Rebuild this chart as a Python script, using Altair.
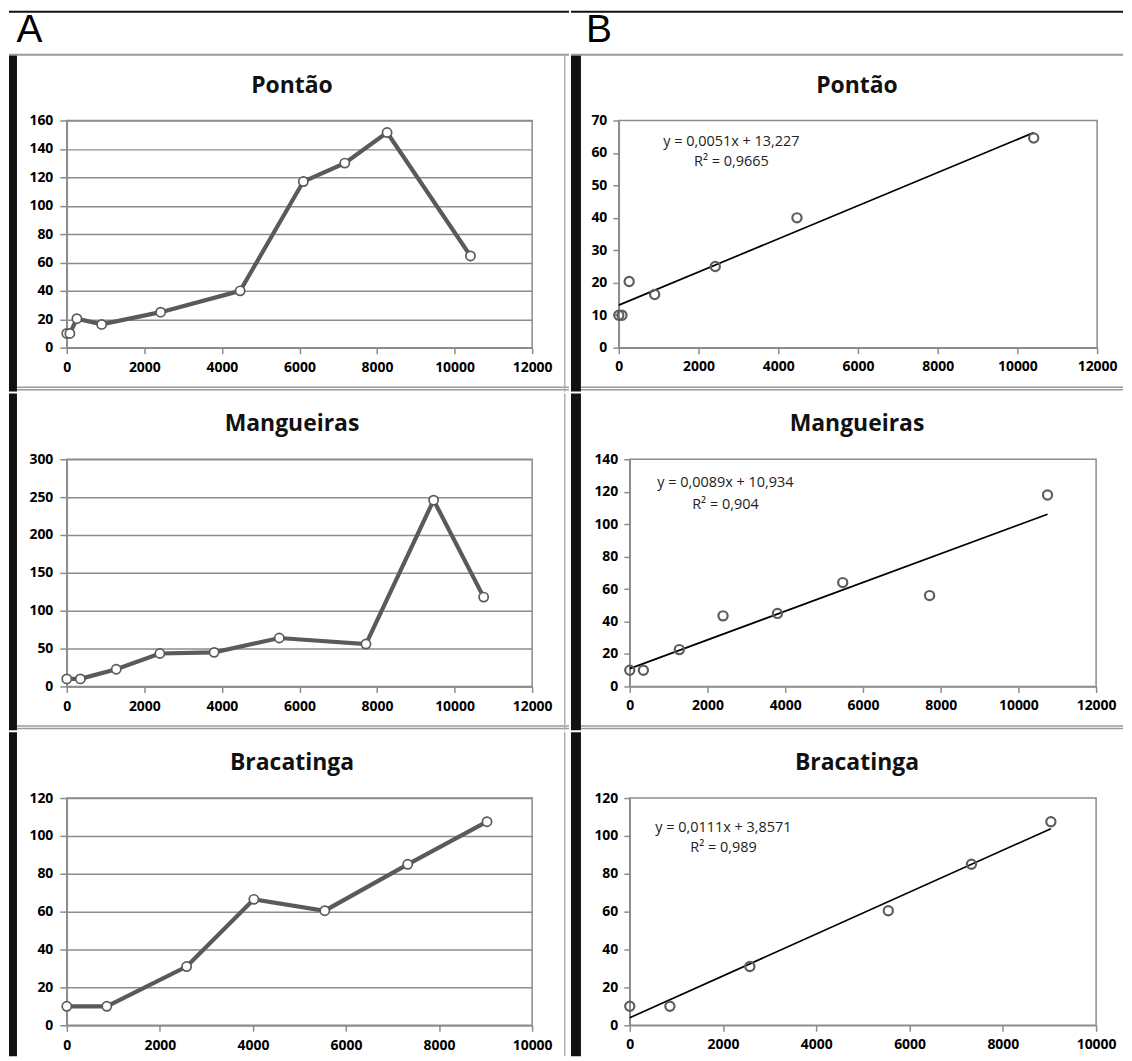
import altair as alt
import pandas as pd

# ---------------- data ----------------
pontao_x = [0, 80, 260, 900, 2420, 4470, 6100, 7170, 8260, 10410]
pontao_y = [10, 10, 20.4, 16.4, 25, 40, 117, 130, 151.5, 64.6]
pontao_fit_x = [0, 80, 260, 900, 2420, 4470, 10410]
pontao_fit_y = [10, 10, 20.4, 16.4, 25, 40, 64.6]

mang_x = [0, 350, 1275, 2400, 3800, 5480, 7715, 9460, 10750]
mang_y = [10, 10, 22.7, 43.5, 45, 64, 56, 246, 118]
mang_fit_x = [0, 350, 1275, 2400, 3800, 5480, 7715, 10750]
mang_fit_y = [10, 10, 22.7, 43.5, 45, 64, 56, 118]

brac_x = [0, 860, 2575, 4020, 5544, 7327, 9030]
brac_y = [10, 10, 31, 66.5, 60.5, 85, 107.5]
brac_fit_x = [0, 860, 2575, 5544, 7327, 9030]
brac_fit_y = [10, 10, 31, 60.5, 85, 107.5]

titles = ["Pontão", "Mangueiras", "Bracatinga"]
equations = ["y = 0,0051x + 13,227", "y = 0,0089x + 10,934", "y = 0,0111x + 3,8571"]
r_squared = ["R² = 0,9665", "R² = 0,904", "R² = 0,989"]

# ---------------- styling ----------------
GRAY = "#8c8c8c"
H = 228
one = pd.DataFrame({"k": [0]})


def rect(x1, x2, y1, y2, color, opacity=1):
    return alt.Chart(one).mark_rect(color=color, opacity=opacity).encode(
        x=alt.value(x1), x2=alt.value(x2), y=alt.value(y1), y2=alt.value(y2))


def text(t, x, y, size, weight="normal", font="Open Sans", color="#111"):
    return alt.Chart(pd.DataFrame({"t": [t]})).mark_text(
        font=font, fontSize=size, fontWeight=weight, color=color,
        align="center", baseline="middle").encode(
        text="t:N", x=alt.value(x), y=alt.value(y))


def enc(xmax, xstep, ymax, ystep, grid, ytick, ypad, xpad):
    common = dict(labelFont="Open Sans", labelFontWeight="bold", labelFontSize=14,
                  labelColor="#000", domainColor=GRAY, domainWidth=1.5,
                  tickColor=GRAY, tickWidth=1.5, labelFlush=False,
                  labelOverlap=False, title=None, format="d")
    X = alt.X("x:Q", scale=alt.Scale(domain=[0, xmax], nice=False),
              axis=alt.Axis(values=list(range(0, xmax + 1, xstep)), grid=False,
                            tickSize=6, labelPadding=xpad, **common))
    Y = alt.Y("y:Q", scale=alt.Scale(domain=[0, ymax], nice=False),
              axis=alt.Axis(values=list(range(0, ymax + 1, ystep)), grid=grid,
                            gridColor=GRAY, gridWidth=1.5, tickSize=ytick,
                            labelPadding=ypad, **common))
    return X, Y


def frame(L, R, T, B, W, bar, row, letter=None, letter_x=0):
    layers = [rect(L, R, T, B, "white", 0)]
    top = -66 if row == 0 else T
    layers.append(rect(bar[0], bar[1], top, B, "#111"))
    if row < 2:
        layers.append(rect(bar[1], R, H + 39, H + 40.5, "#9a9a9a"))
        layers.append(rect(bar[1], R, H + 41.5, H + 43, "#9a9a9a"))
    if row == 0:
        layers.append(rect(L, R, -110, -108, "#111"))
        layers.append(rect(L, R, -67, -65, "#9a9a9a"))
        layers.append(text(letter, letter_x, -91, 39, font="Liberation Sans", color="#000"))
    return layers


# layout parameters per row
rows_T = [-110, -66, -66]
rows_B = [272, 272, 259]

A_specs = [
    (pontao_x, pontao_y, 12000, 2000, 160, 20),
    (mang_x, mang_y, 12000, 2000, 300, 50),
    (brac_x, brac_y, 10000, 2000, 120, 20),
]
B_specs = [
    (pontao_fit_x, pontao_fit_y, 12000, 2000, 70, 10),
    (mang_fit_x, mang_fit_y, 12000, 2000, 140, 20),
    (brac_fit_x, brac_fit_y, 10000, 2000, 120, 20),
]
B_geom = [  # (W, L, R, title_x, eq_x, eq_y, r2_y)
    (480, -48, 506, 239, 113, 22, 42),
    (468, -59, 495, 228, 96, 24, 46),
    (468, -59, 495, 228, 94, 30, 50),
]

rows = []
for i in range(3):
    # ----- column A (line charts) -----
    xs, ys, xmax, xstep, ymax, ystep = A_specs[i]
    W = 467
    L, R = -58, 504
    T, B = rows_T[i], rows_B[i]
    df = pd.DataFrame({"x": xs, "y": ys})
    X, Y = enc(xmax, xstep, ymax, ystep, True, 7, 7, 7)
    layers = frame(L, R, T, B, W, (L, L + 8), i, "A", -37.5)
    layers.append(rect(R - 5, R - 3.5, -66 if i == 0 else T, B, "#b0b0b0"))
    layers.append(text(titles[i], 226, -35, 23, weight="bold"))
    layers.append(alt.Chart(df).mark_line(color="#5a5a5a", strokeWidth=4.2).encode(x=X, y=Y))
    layers.append(alt.Chart(df).mark_circle(size=85, fill="white", stroke="#5a5a5a",
                                            strokeWidth=1.7, opacity=1).encode(x=X, y=Y))
    panelA = alt.layer(*layers).properties(width=W, height=H)

    # ----- column B (scatter + linear fit) -----
    xs, ys, xmax, xstep, ymax, ystep = B_specs[i]
    W, L, R, tx, ex, ey, ry = B_geom[i]
    df = pd.DataFrame({"x": xs, "y": ys})
    X, Y = enc(xmax, xstep, ymax, ystep, False, 6, 6, 6)
    layers = frame(L, R, T, B, W, (L, L + 10), i, "B", -20)
    layers.append(text(titles[i], tx, -35, 23, weight="bold"))
    layers.append(alt.Chart(df).transform_regression("x", "y").mark_line(
        color="#000", strokeWidth=1.7).encode(x=X, y=Y))
    layers.append(alt.Chart(df).mark_point(shape="circle", filled=False, color="#5e5e5e",
                                           strokeWidth=2.2, size=85, opacity=1).encode(x=X, y=Y))
    layers.append(text(equations[i], ex, ey, 14.5, color="#222"))
    layers.append(text(r_squared[i], ex, ry, 14.5, color="#222"))
    panelB = alt.layer(*layers).properties(width=W, height=H)

    rows.append(alt.hconcat(panelA, panelB, spacing=0))

chart = alt.vconcat(*rows, spacing=0, padding=0).configure_view(
    stroke=GRAY, strokeWidth=1.5)

chart.save("out.html", embed_options={"renderer": "svg", "actions": False})
